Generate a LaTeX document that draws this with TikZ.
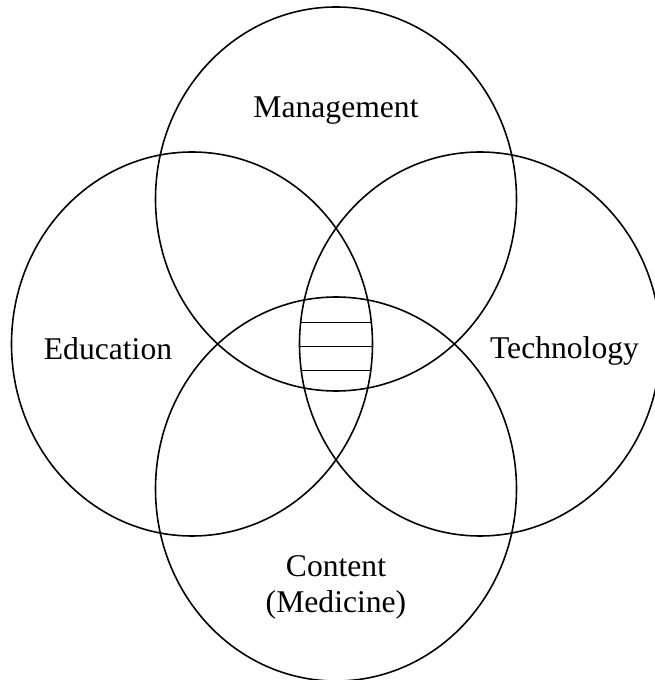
\documentclass[tikz,border=0pt]{standalone}
\usepackage{fontspec}
\setmainfont{Liberation Serif}
\begin{document}
\begin{tikzpicture}

% Define dimensions
\def\dx{2.88}     % Horizontal offset of the side ellipses
\def\dy{2.90}     % Vertical offset of the top and bottom ellipses
\def\rx{3.61}     % Half width of each ellipse
\def\ry{3.84}     % Half height of each ellipse

\tikzstyle{area}=[line width=0.9pt]
\tikzstyle{label}=[inner sep=0pt, font=\fontsize{18}{20.5}\selectfont]

% Fix the size of the page
\useasboundingbox (-6.72,-6.72) rectangle (6.36,6.88);

% Centers of the four ellipses
\coordinate (mc) at (0,\dy);       % Management
\coordinate (ec) at (-\dx,0);      % Education
\coordinate (tc) at (\dx,0);       % Technology
\coordinate (cc) at (0,-\dy);      % Content

% Draw commands
\draw [area] (mc) ellipse [x radius=\rx, y radius=\ry];
\draw [area] (ec) ellipse [x radius=\rx, y radius=\ry];
\draw [area] (tc) ellipse [x radius=\rx, y radius=\ry];
\draw [area] (cc) ellipse [x radius=\rx, y radius=\ry];

% Horizontal hatching in the middle, kept inside the lens of the side ellipses
\begin{scope}
  \clip (ec) ellipse [x radius=\rx, y radius=\ry];
  \clip (tc) ellipse [x radius=\rx, y radius=\ry];
  \foreach \y in {0.43,-0.05,-0.53}
    \draw [area] (-2,\y) -- (2,\y);
\end{scope}

% Labels
\node [label, anchor=base] (management) at (0,4.52) {Management};
\node [label, anchor=base] (education) at (-4.56,-0.32) {Education};
\node [label, anchor=base] (technology) at (4.57,-0.30) {Technology};
\node [label, align=center] (content) at (0,-4.86) {Content\\(Medicine)};

\end{tikzpicture}
\end{document}
